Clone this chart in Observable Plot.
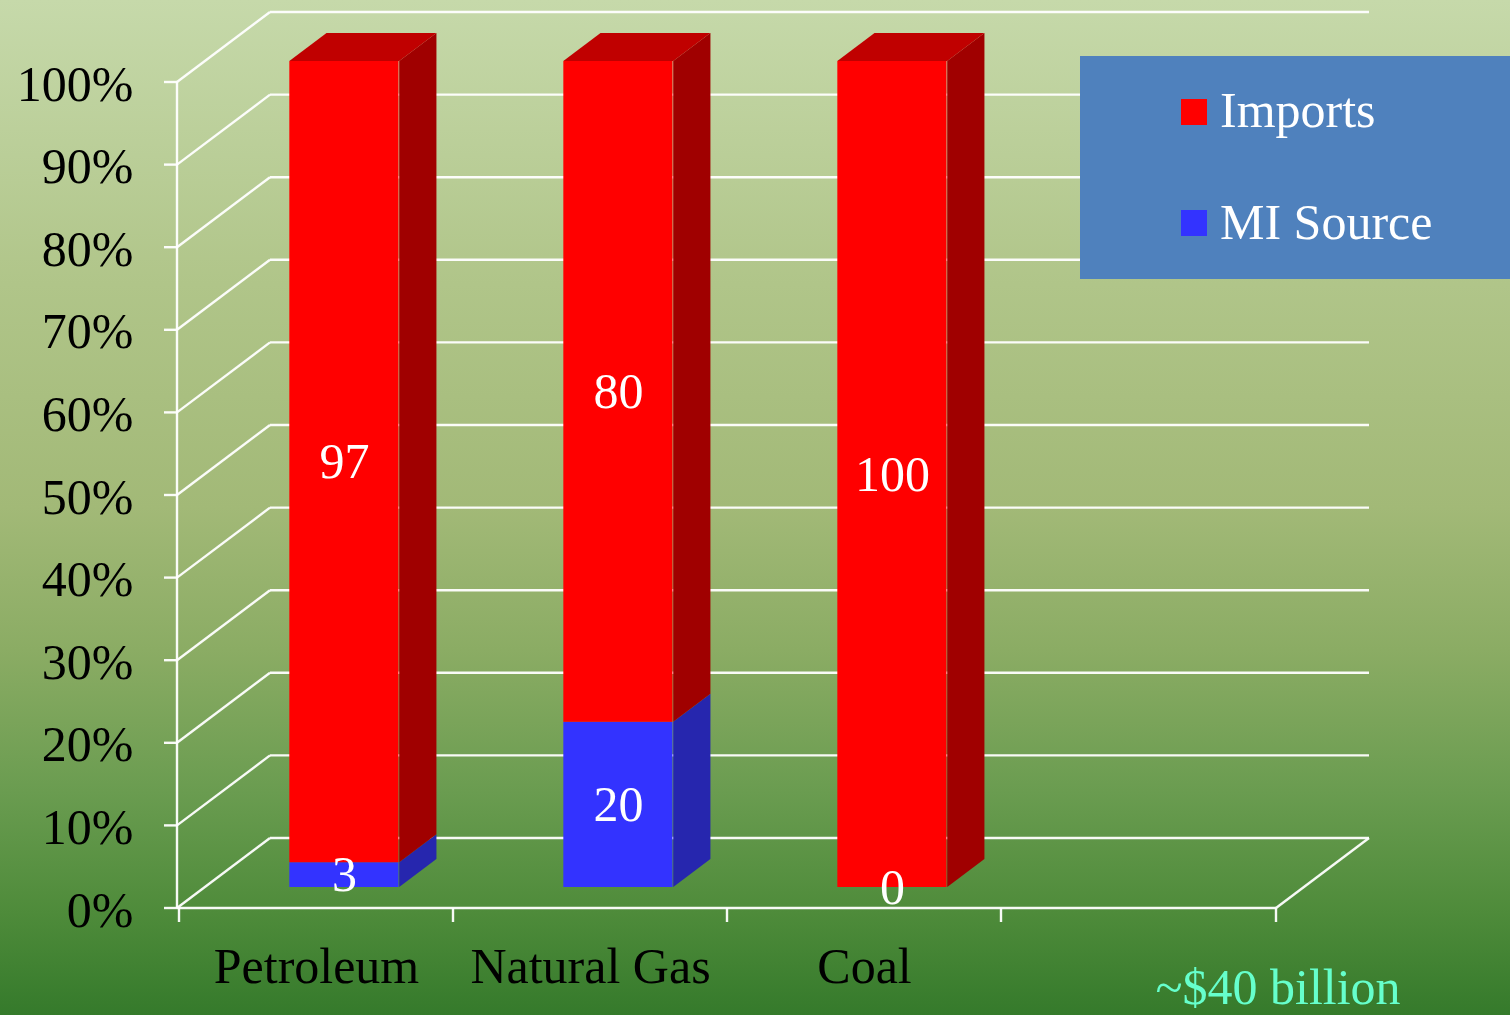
<!DOCTYPE html>
<html>
<head>
<meta charset="utf-8">
<script src="https://cdn.jsdelivr.net/npm/d3@7"></script>
<script src="https://cdn.jsdelivr.net/npm/@observablehq/plot@0.6"></script>
<style>
  html, body { margin: 0; padding: 0; }
  #wrap {
    position: relative; width: 1510px; height: 1015px; overflow: hidden;
    background: linear-gradient(to bottom, #C6D9AA 0%, #B0C589 28%, #A2B977 50%, #8BAC64 64%, #6A9C50 78%, #4E8B3A 90%, #357A2B 100%);
    font-family: "Liberation Serif", serif;
  }
  #chart svg { display: block; }
  #legend {
    position: absolute; left: 1080px; top: 56px; width: 430px; height: 223px;
    background: #4F81BD; color: #fff; font-size: 50px; line-height: 50px;
  }
  .sw { position: absolute; left: 101px; width: 26px; height: 26px; }
  .lt { position: absolute; left: 140px; white-space: nowrap; }
</style>
</head>
<body>
<div id="wrap">
  <div id="chart"></div>
  <div id="legend"></div>
</div>
<script>
// ---- data ----
const categories = ["Petroleum", "Natural Gas", "Coal"];
const xSlots = [...categories, ""];              // fourth (empty) band of the 3D floor
const series = ["MI Source", "Imports"];          // bottom to top
const miSource = [3, 20, 0];
const imports = [97, 80, 100];
const yTicks = [0, 10, 20, 30, 40, 50, 60, 70, 80, 90, 100];
const yTickLabels = yTicks.map(d => d + "%");
const seriesColors = ["#3333FF", "#FF0000"];
const seriesSide = ["#2626AE", "#A00000"];
const seriesTop = ["#2A2AC4", "#C00000"];
const annotation = "~$40 billion";

// ---- layout ----
const W = 1510, H = 1015;
const mL = 177, mR = 234, mT = 82, mB = 107;
const DX = 93, DY = -70;          // full depth of the 3D box
const f0 = 0.3, f1 = 0.7;         // bar depth span
const barFrac = 0.4;
const bw = (W - mL - mR) / xSlots.length;
const inset = bw * (1 - barFrac) / 2;
const fdx = f0 * DX, fdy = f0 * DY;
const bdx = (f1 - f0) * DX, bdy = (f1 - f0) * DY;

// stacked rows
const valuesBySeries = [miSource, imports];
const rows = [];
categories.forEach((c, ci) => {
  let acc = 0;
  series.forEach((s, si) => {
    const v = valuesBySeries[si][ci];
    rows.push({category: c, series: s, si, value: v, y1: acc, y2: acc + v});
    acc += v;
  });
});
rows.forEach(r => {
  const top = Math.max(...rows.filter(q => q.category === r.category).map(q => q.y2));
  r.isTop = r.value > 0 && r.y2 === top;
});

// walls, gridlines and axis lines of the 3D box
function walls(index, scales) {
  const g = d3.create("svg:g").attr("stroke", "#FFFFFF").attr("stroke-width", 2.4).attr("fill", "none").attr("stroke-opacity", 0.95);
  const [xa, xb] = scales.x.range();
  const y = scales.y;
  for (const t of yTicks) {
    g.append("line").attr("x1", xa + DX).attr("x2", xb + DX).attr("y1", y(t) + DY).attr("y2", y(t) + DY);
    g.append("line").attr("x1", xa).attr("x2", xa + DX).attr("y1", y(t)).attr("y2", y(t) + DY);
    g.append("line").attr("x1", xa - 13).attr("x2", xa).attr("y1", y(t)).attr("y2", y(t));
  }
  // floor front edge & right edge
  g.append("line").attr("x1", xa).attr("x2", xb).attr("y1", y(0)).attr("y2", y(0));
  g.append("line").attr("x1", xb).attr("x2", xb + DX).attr("y1", y(0)).attr("y2", y(0) + DY);
  // vertical axis
  g.append("line").attr("x1", xa).attr("x2", xa).attr("y1", y(0)).attr("y2", y(100));
  // band boundary ticks
  const bounds = scales.x.domain().map(d => scales.x(d)).concat([xb]);
  for (const bx of bounds) {
    g.append("line").attr("x1", bx).attr("x2", bx).attr("y1", y(0)).attr("y2", y(0) + 14);
  }
  return g.node();
}

// side and top faces of the bars
function barDepth(index, scales) {
  const g = d3.create("svg:g");
  for (const r of rows) {
    if (r.value <= 0) continue;
    const x0 = scales.x(r.category) + inset + fdx;
    const x1 = scales.x(r.category) + bw - inset + fdx;
    const yb = scales.y(r.y1) + fdy, yt = scales.y(r.y2) + fdy;
    g.append("polygon")
      .attr("points", [[x1, yt], [x1 + bdx, yt + bdy], [x1 + bdx, yb + bdy], [x1, yb]].map(p => p.join(",")).join(" "))
      .attr("fill", seriesSide[r.si]);
    if (r.isTop) {
      g.append("polygon")
        .attr("points", [[x0, yt], [x0 + bdx, yt + bdy], [x1 + bdx, yt + bdy], [x1, yt]].map(p => p.join(",")).join(" "))
        .attr("fill", seriesTop[r.si]);
    }
  }
  return g.node();
}

const chart = Plot.plot({
  width: W, height: H,
  marginLeft: mL, marginRight: mR, marginTop: mT, marginBottom: mB,
  style: {background: "transparent", fontFamily: "'Liberation Serif', serif", fontSize: "50px", overflow: "visible"},
  x: {type: "band", domain: xSlots, padding: 0, axis: null},
  y: {domain: [0, 100], axis: null},
  color: {domain: series, range: seriesColors},
  marks: [
    walls,
    barDepth,
    Plot.barY(rows, {x: "category", y1: "y1", y2: "y2", fill: "series", insetLeft: inset, insetRight: inset, dx: fdx, dy: fdy}),
    Plot.text(rows, {x: "category", y: d => (d.y1 + d.y2) / 2, text: d => String(d.value), fill: "#FFFFFF", fontSize: 50, dx: fdx, dy: fdy}),
    Plot.text(yTicks, {y: d => d, text: (d, i) => yTickLabels[i], frameAnchor: "left", textAnchor: "end", lineAnchor: "middle", dx: -44, dy: 2, fill: "#000000", fontSize: 50}),
    Plot.text(categories, {x: d => d, text: d => d, frameAnchor: "bottom", lineAnchor: "middle", dy: 58, fill: "#000000", fontSize: 50}),
    Plot.text([annotation], {text: d => d, frameAnchor: "bottom-right", textAnchor: "start", lineAnchor: "middle", dx: -121, dy: 79, fill: "#66FFCC", fontSize: 50})
  ]
});
document.getElementById("chart").appendChild(chart);

// legend (top to bottom: Imports, MI Source)
const legend = document.getElementById("legend");
const legendOrder = [1, 0];
legendOrder.forEach((si, k) => {
  const sw = document.createElement("div");
  sw.className = "sw";
  sw.style.top = (43 + k * 111) + "px";
  sw.style.background = seriesColors[si];
  legend.appendChild(sw);
  const lt = document.createElement("div");
  lt.className = "lt";
  lt.style.top = (29 + k * 112) + "px";
  lt.textContent = series[si];
  legend.appendChild(lt);
});
</script>
</body>
</html>
